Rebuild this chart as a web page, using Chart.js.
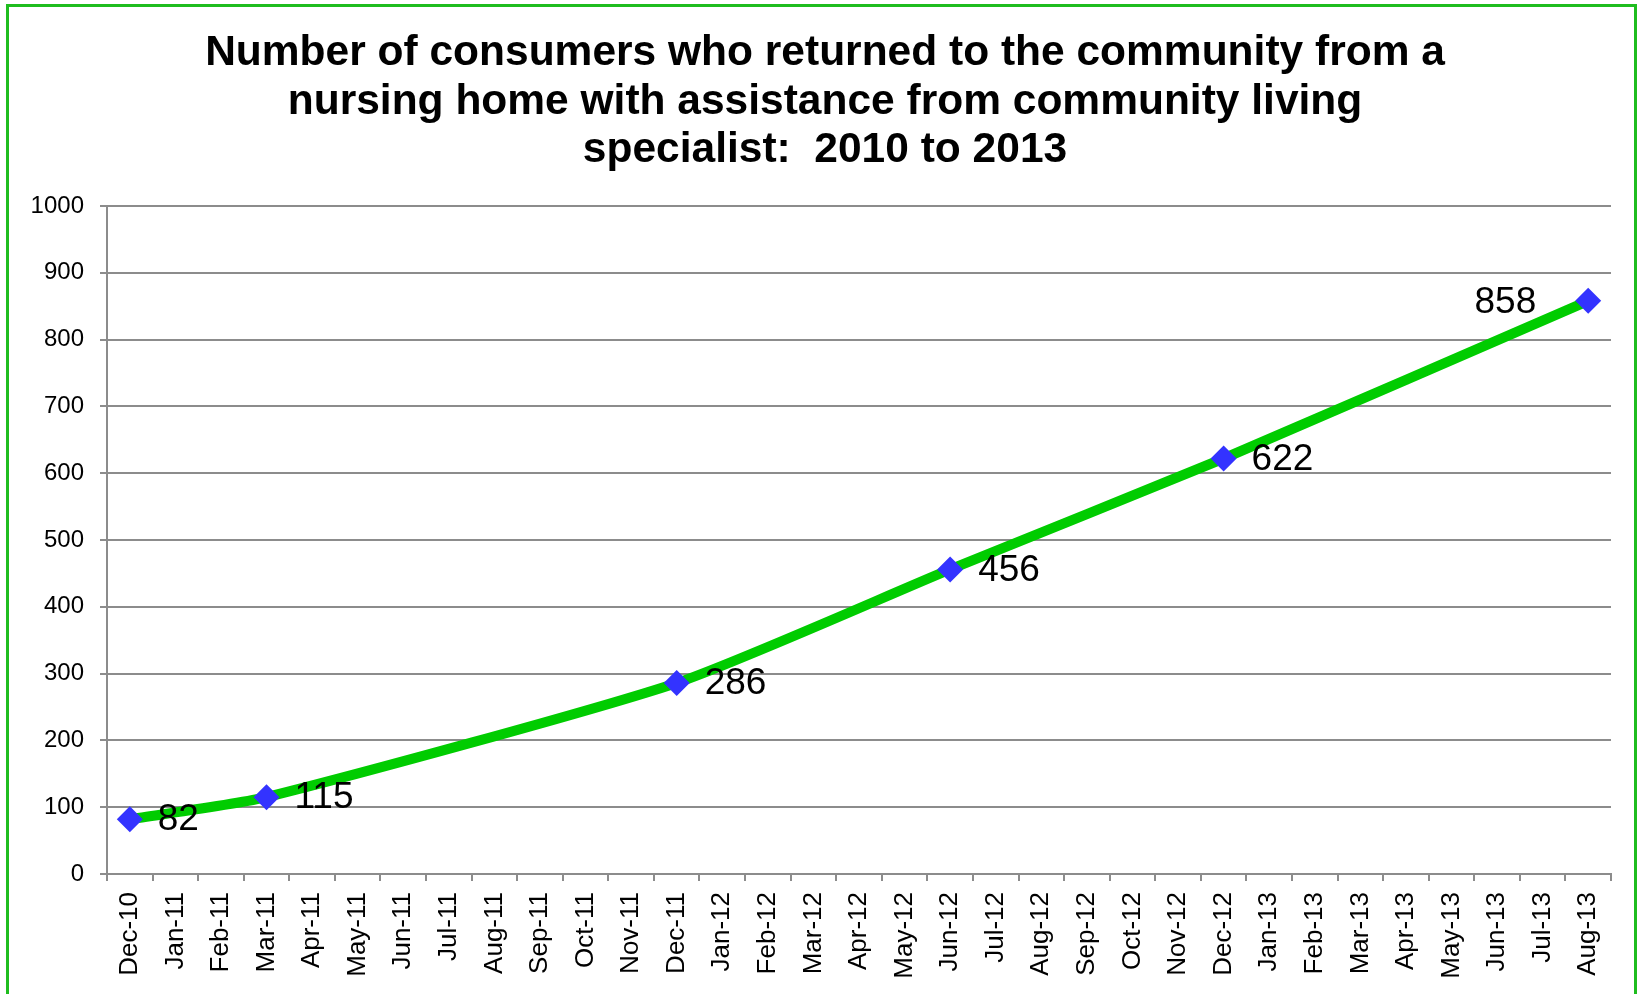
<!DOCTYPE html>
<html>
<head>
<meta charset="utf-8">
<script src="https://cdn.jsdelivr.net/npm/chart.js@4"></script>
<style>
  html, body { margin: 0; padding: 0; background: #fff; overflow: hidden; }
  #wrap { position: relative; width: 1640px; height: 994px; }
  #frame { position: absolute; left: 6px; top: 4px; width: 1625px; height: 1000px; border: 3px solid #1fbd1f; pointer-events: none; }
  canvas { position: absolute; left: 0; top: 0; }
</style>
</head>
<body>
<div id="wrap">
  <canvas id="consumers" width="1640" height="994"></canvas>
  <div id="frame"></div>
</div>
<script>
// months on the date axis
var months = ["Dec-10", "Jan-11", "Feb-11", "Mar-11", "Apr-11", "May-11", "Jun-11", "Jul-11",
  "Aug-11", "Sep-11", "Oct-11", "Nov-11", "Dec-11", "Jan-12", "Feb-12", "Mar-12", "Apr-12",
  "May-12", "Jun-12", "Jul-12", "Aug-12", "Sep-12", "Oct-12", "Nov-12", "Dec-12", "Jan-13",
  "Feb-13", "Mar-13", "Apr-13", "May-13", "Jun-13", "Jul-13", "Aug-13"];

// cumulative consumers returned (only reported months have values)
var returned = [82, null, null, 115, null, null, null, null,
  null, null, null, null, 286, null, null, null, null,
  null, 456, null, null, null, null, null, 622, null,
  null, null, null, null, null, null, 858];

var titleLines = [
  "Number of consumers who returned to the community from a",
  "nursing home with assistance from community living",
  "specialist:  2010 to 2013"
];

var FONT = "'Liberation Sans', Arial, sans-serif";

// título centrado sobre el marco
var chartTitle = {
  id: "chartTitle",
  afterDraw: function (chart) {
    var ctx = chart.ctx;
    ctx.save();
    ctx.font = "bold 42.5px " + FONT;
    ctx.fillStyle = "#000";
    ctx.textAlign = "center";
    ctx.textBaseline = "alphabetic";
    titleLines.forEach(function (line, i) {
      ctx.fillText(line, 825, 65 + i * 48.5);
    });
    ctx.restore();
  }
};

// etiquetas de datos junto a cada punto
var pointLabels = {
  id: "pointLabels",
  afterDatasetsDraw: function (chart) {
    var ctx = chart.ctx;
    var meta = chart.getDatasetMeta(0);
    var data = chart.data.datasets[0].data;
    var last = data.length - 1;
    ctx.save();
    ctx.font = "37px " + FONT;
    ctx.fillStyle = "#000";
    ctx.textBaseline = "middle";
    meta.data.forEach(function (pt, i) {
      if (data[i] === null) return;
      if (i === last) {
        ctx.textAlign = "right";
        ctx.fillText(String(data[i]), pt.x - 52, pt.y + 2);
      } else {
        ctx.textAlign = "left";
        ctx.fillText(String(data[i]), pt.x + 28, pt.y + 1);
      }
    });
    ctx.restore();
  }
};

new Chart(document.getElementById("consumers"), {
  type: "line",
  data: {
    labels: months,
    datasets: [{
      data: returned,
      spanGaps: true,
      borderColor: "#00cc00",
      borderWidth: 10,
      tension: 0.2,
      pointStyle: "rectRot",
      pointRadius: 13,
      pointHoverRadius: 13,
      pointBackgroundColor: "#3333ff",
      pointBorderWidth: 0,
    }],
  },
  options: {
    responsive: false,
    animation: false,
    devicePixelRatio: 1,
    layout: { padding: { left: 12, right: 29, top: 206, bottom: 0 } },
    plugins: {
      legend: { display: false },
      tooltip: { enabled: false },
      title: { display: false },
    },
    scales: {
      x: {
        offset: true,
        afterFit: function (scale) { scale.height = 120; },
        grid: {
          offset: true,
          drawOnChartArea: false,
          drawTicks: true,
          tickLength: 7,
          color: "#8c8c8c",
          lineWidth: 2,
        },
        border: { color: "#8c8c8c", width: 2 },
        ticks: {
          autoSkip: false,
          minRotation: 90,
          maxRotation: 90,
          padding: 11,
          color: "#000",
          font: { family: FONT, size: 26 },
        },
      },
      y: {
        min: 0,
        max: 1000,
        afterFit: function (scale) { scale.width = 95; },
        grid: { color: "#8c8c8c", lineWidth: 2, tickLength: 7 },
        border: { color: "#8c8c8c", width: 2 },
        ticks: {
          stepSize: 100,
          padding: 16,
          color: "#000",
          font: { family: FONT, size: 24 },
          callback: function (v) { return String(v); },
        },
      },
    },
  },
  plugins: [pointLabels, chartTitle],
});
</script>
</body>
</html>
